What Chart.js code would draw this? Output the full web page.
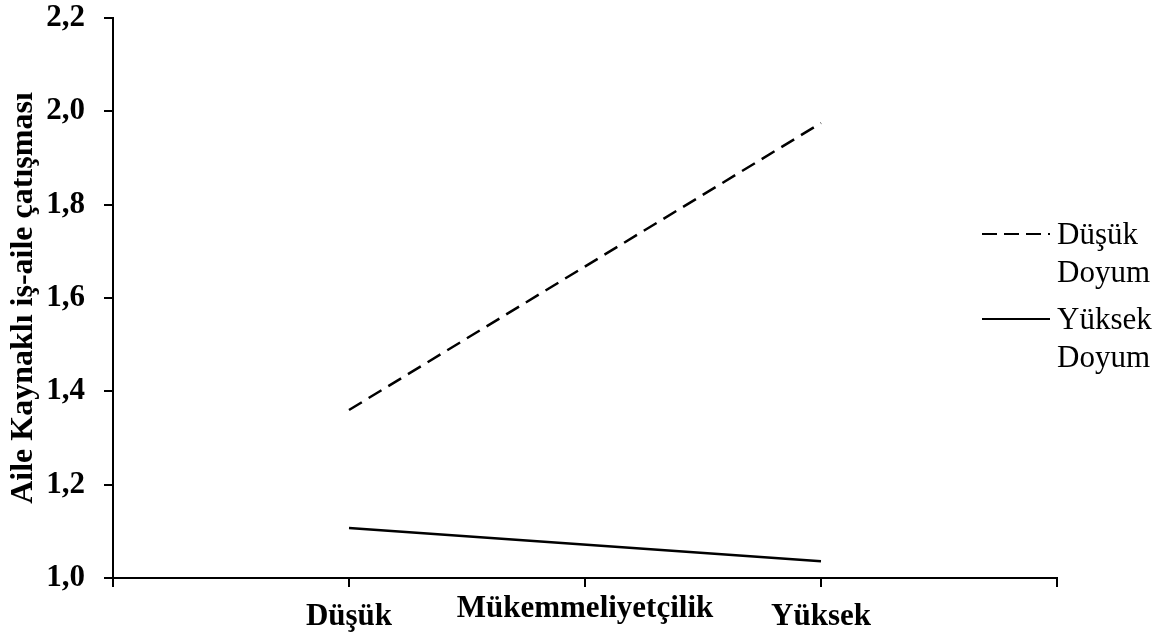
<!DOCTYPE html>
<html>
<head>
<meta charset="utf-8">
<script src="https://cdn.jsdelivr.net/npm/chart.js@4.4.0/dist/chart.umd.min.js"></script>
<style>
  body { margin: 0; background: #fff; }
  #wrap { position: relative; width: 1163px; height: 632px; }
  #legend { position: absolute; left: 982px; top: 215px; font-family: "Liberation Serif", serif; font-size: 31px; color: #000; }
  .item { display: flex; align-items: flex-start; margin-bottom: 9px; }
  .swatch { width: 68px; height: 2px; margin-top: 18px; margin-right: 7px; background: #000; }
  .swatch.dash { background: repeating-linear-gradient(to right, #000 0 15px, transparent 15px 22px); }
  .txt { line-height: 38px; }
</style>
</head>
<body>
<div id="wrap">
  <canvas id="chart" width="1163" height="632"></canvas>
  <div id="legend"></div>
</div>
<script>
// x categories (first/last/middle are empty slots like the original)
const categories = ['', 'Düşük', '', 'Yüksek', ''];
const lowSatisfaction = [null, 1.36, null, 1.975, null];
const highSatisfaction = [null, 1.107, null, 1.036, null];
const seriesNames = ['Düşük\nDoyum', 'Yüksek\nDoyum'];
const yTitle = 'Aile Kaynaklı iş-aile çatışması';
const xTitle = 'Mükemmeliyetçilik';

const serif = '"Liberation Serif", "Times New Roman", serif';

// both axis titles drawn by hand so they sit where the original has them
const titlesPlugin = {
  id: 'titles',
  afterDraw(chart) {
    const { ctx, chartArea } = chart;
    ctx.save();
    ctx.fillStyle = '#000';
    ctx.font = 'bold 31px ' + serif;
    ctx.textAlign = 'center';
    ctx.textBaseline = 'alphabetic';
    ctx.fillText(xTitle, (chartArea.left + chartArea.right) / 2, 617);

    ctx.font = 'bold 32px ' + serif;
    ctx.translate(32, 298);
    ctx.rotate(-Math.PI / 2);
    ctx.fillText(yTitle, 0, 0);
    ctx.restore();
  }
};

const chart = new Chart(document.getElementById('chart'), {
  type: 'line',
  data: {
    labels: categories,
    datasets: [
      {
        label: seriesNames[0],
        data: lowSatisfaction,
        borderColor: '#000',
        borderWidth: 2.5,
        borderDash: [15, 8],
        pointRadius: 0,
        spanGaps: true
      },
      {
        label: seriesNames[1],
        data: highSatisfaction,
        borderColor: '#000',
        borderWidth: 2.5,
        pointRadius: 0,
        spanGaps: true
      }
    ]
  },
  options: {
    responsive: false,
    animation: false,
    layout: { padding: { top: 18, right: 106, left: 0, bottom: 0 } },
    plugins: { legend: { display: false }, tooltip: { enabled: false } },
    scales: {
      x: {
        type: 'category',
        offset: false,
        grid: { offset: false, drawOnChartArea: false, drawTicks: true, tickLength: 9, color: '#000', lineWidth: 2 },
        border: { color: '#000', width: 2 },
        ticks: { autoSkip: false, maxRotation: 0, padding: 11, color: '#000', font: { family: serif, size: 31, weight: 'bold' } },
        afterFit(scale) {
          scale.height = 54;
          scale.paddingLeft = 0;
          scale.paddingRight = 0;
        }
      },
      y: {
        min: 1.0,
        max: 2.2,
        grid: { drawOnChartArea: false, drawTicks: true, tickLength: 9, color: '#000', lineWidth: 2 },
        border: { color: '#000', width: 2 },
        ticks: {
          stepSize: 0.2,
          padding: 19,
          color: '#000',
          font: { family: serif, size: 31, weight: 'bold' },
          callback: v => v.toFixed(1).replace('.', ',')
        },
        afterFit(scale) {
          scale.width = 113;
          scale.paddingTop = 0;
          scale.paddingBottom = 0;
        }
      }
    }
  },
  plugins: [titlesPlugin]
});

// HTML legend on the right
const legend = document.getElementById('legend');
chart.data.datasets.forEach(ds => {
  const item = document.createElement('div');
  item.className = 'item';
  const sw = document.createElement('div');
  sw.className = 'swatch' + (ds.borderDash ? ' dash' : '');
  const txt = document.createElement('div');
  txt.className = 'txt';
  txt.innerHTML = ds.label.split('\n').join('<br>');
  item.appendChild(sw);
  item.appendChild(txt);
  legend.appendChild(item);
});
</script>
</body>
</html>
